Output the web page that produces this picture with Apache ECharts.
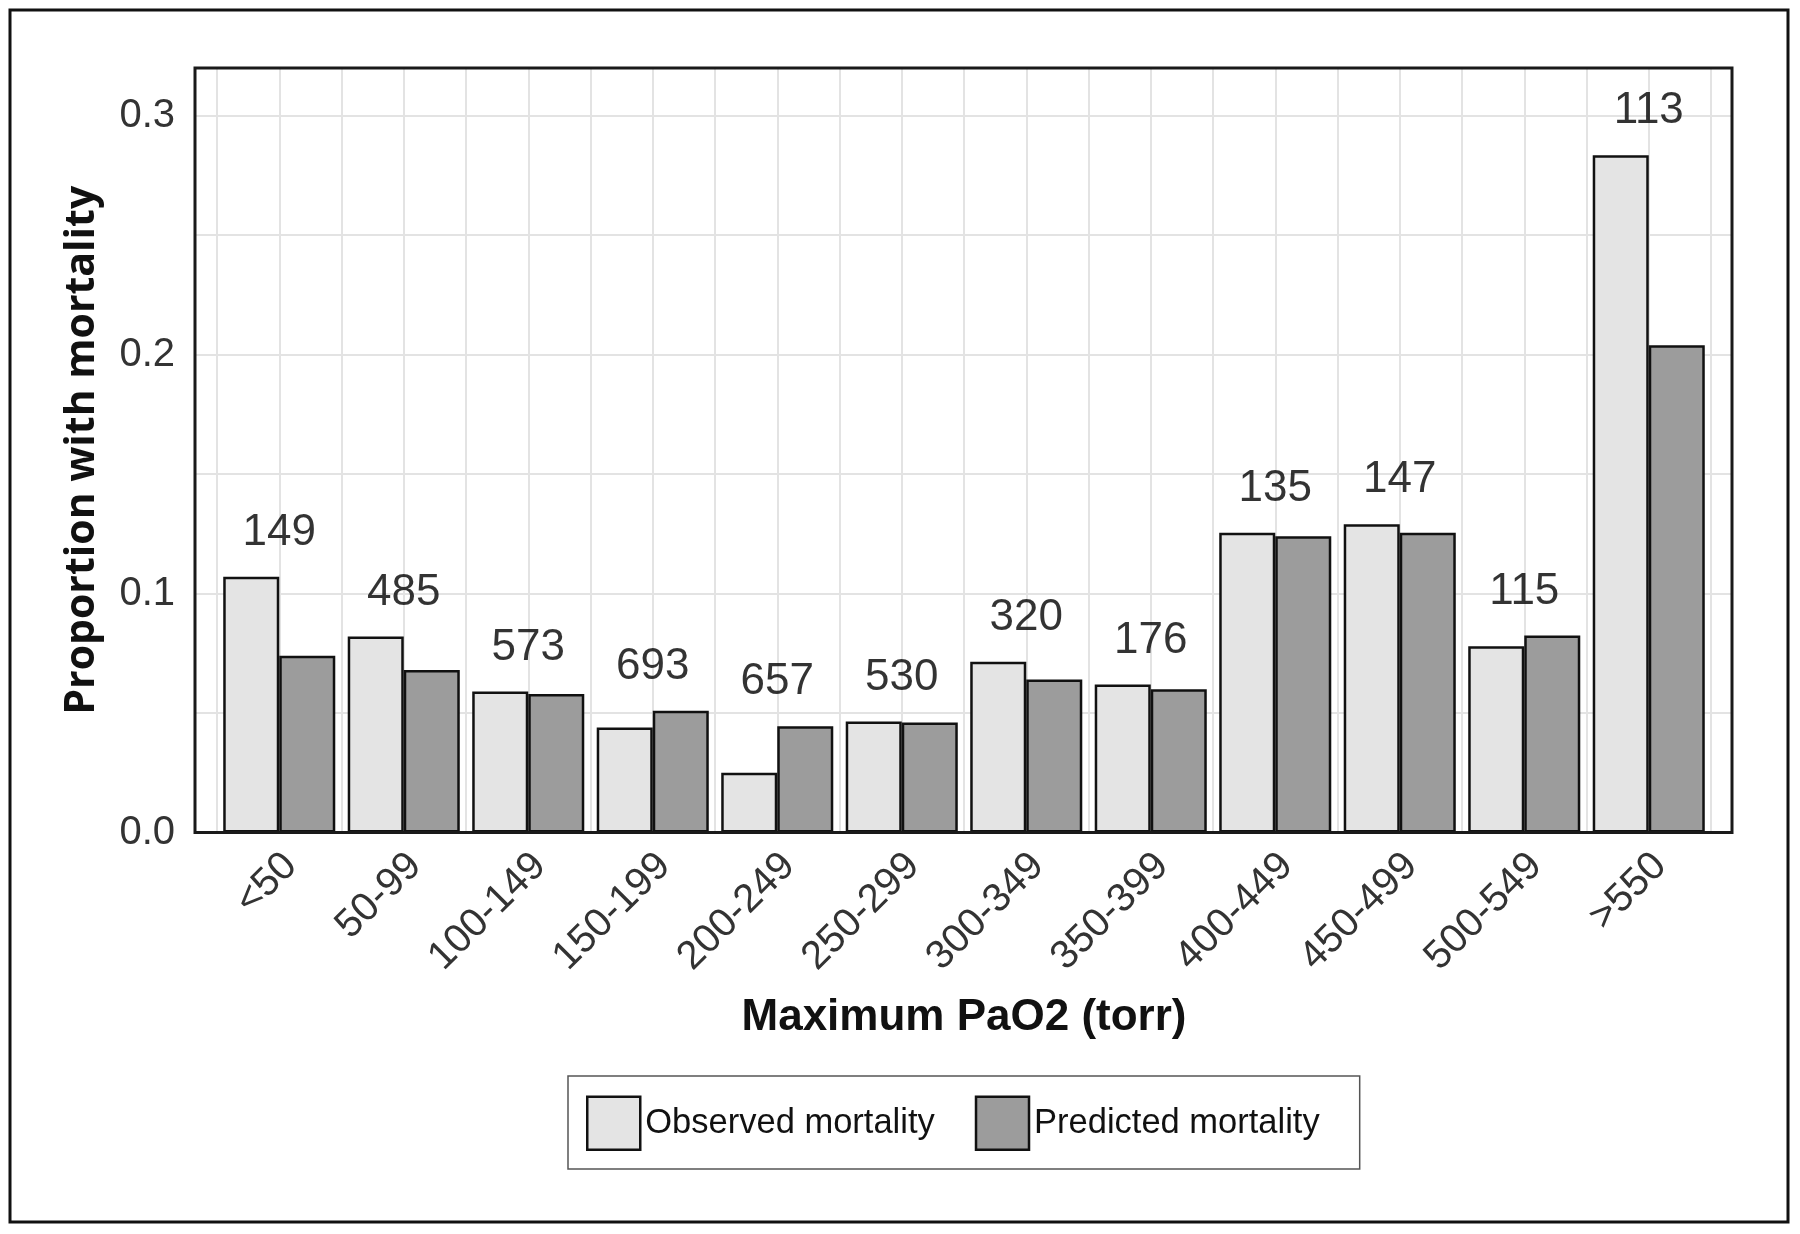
<!DOCTYPE html>
<html>
<head>
<meta charset="utf-8">
<script src="https://cdn.jsdelivr.net/npm/echarts@6/dist/echarts.min.js"></script>
<style>
  html, body { margin: 0; padding: 0; background: #ffffff; }
  #chart { width: 1800px; height: 1234px; }
</style>
</head>
<body>
<div id="chart"></div>
<script>
// ---- data ----
const categories = ['<50', '50-99', '100-149', '150-199', '200-249', '250-299', '300-349', '350-399', '400-449', '450-499', '500-549', '>550'];
const observed = [0.107, 0.082, 0.059, 0.044, 0.025, 0.0465, 0.0715, 0.062, 0.1255, 0.129, 0.078, 0.2835];
const predicted = [0.074, 0.068, 0.058, 0.051, 0.0445, 0.046, 0.064, 0.060, 0.124, 0.1255, 0.0825, 0.204];
const counts = [149, 485, 573, 693, 657, 530, 320, 176, 135, 147, 115, 113];
const yTicks = [0, 0.1, 0.2, 0.3];
const seriesNames = ['Observed mortality', 'Predicted mortality'];

// ---- layout ----
const PL = 195, PT = 68, PR = 1732, PB = 832.5;   // plot frame
const BL = 217, BR = 1711;                        // category band extent
const YMAX = 0.32;
const gridColor = '#e3e3e3';
const sansFont = '"Liberation Sans", Arial, sans-serif';

const chart = echarts.init(document.getElementById('chart'), null, { renderer: 'canvas' });

const annot = categories.map((c, i) => [i, Math.max(observed[i], predicted[i])]);

const option = {
  backgroundColor: '#ffffff',
  animation: false,
  grid: [
    { left: PL, top: PT, width: PR - PL, height: PB - PT, show: false },
    { left: BL, top: PT, width: BR - BL, height: PB - PT, show: false }
  ],
  legend: {
    data: seriesNames,
    left: 568, top: 1076,
    orient: 'horizontal',
    padding: [19.5, 40, 18, 18],
    itemWidth: 53, itemHeight: 53, itemGap: 40,
    borderColor: '#555', borderWidth: 1.5,
    icon: 'rect',
    itemStyle: { borderColor: '#111', borderWidth: 2.5 },
    textStyle: { fontFamily: sansFont, fontSize: 34.5, color: '#111' }
  },
  xAxis: [
    { gridIndex: 0, type: 'value', min: 0, max: 1, show: false },
    {
      gridIndex: 1, type: 'category', data: categories, boundaryGap: true,
      axisLine: { show: false }, axisTick: { show: false }, splitLine: { show: false },
      axisLabel: {
        interval: 0, rotate: 45, fontSize: 40, lineHeight: 32, verticalAlign: 'top',
        margin: 16, color: '#333', fontFamily: sansFont
      },
      name: 'Maximum PaO2 (torr)', nameLocation: 'middle', nameGap: 163,
      nameTextStyle: { fontFamily: sansFont, fontWeight: 'bold', fontSize: 44, color: '#111' }
    },
    {
      gridIndex: 1, type: 'value', min: 0, max: 24, interval: 1,
      axisLine: { show: false }, axisTick: { show: false }, axisLabel: { show: false },
      splitLine: { show: true, lineStyle: { color: gridColor, width: 2 } }
    }
  ],
  yAxis: [
    {
      gridIndex: 0, type: 'value', min: 0, max: YMAX, interval: 0.05,
      axisLine: { show: false }, axisTick: { show: false },
      splitLine: { show: true, lineStyle: { color: gridColor, width: 2 } },
      axisLabel: {
        fontSize: 40, margin: 20, color: '#333', fontFamily: sansFont,
        formatter: function (v) {
          for (const t of yTicks) { if (Math.abs(v - t) < 1e-9) return t.toFixed(1); }
          return '';
        }
      },
      name: 'Proportion with mortality', nameLocation: 'middle', nameGap: 92,
      nameTextStyle: { fontFamily: '"Open Sans", sans-serif', fontWeight: 'bold', fontSize: 41, color: '#111' }
    },
    { gridIndex: 1, type: 'value', min: 0, max: YMAX, show: false }
  ],
  series: [
    {
      name: seriesNames[0], type: 'bar', xAxisIndex: 1, yAxisIndex: 1,
      data: observed, barGap: '0%', barCategoryGap: '10%',
      itemStyle: { color: '#e4e4e4', borderColor: '#111', borderWidth: 2.5 },
      z: 3
    },
    {
      name: seriesNames[1], type: 'bar', xAxisIndex: 1, yAxisIndex: 1,
      data: predicted, barGap: '0%', barCategoryGap: '10%',
      itemStyle: { color: '#9c9c9c', borderColor: '#111', borderWidth: 2.5 },
      z: 3
    },
    {
      name: 'n', type: 'scatter', xAxisIndex: 1, yAxisIndex: 1,
      data: annot, symbolSize: 0, silent: true,
      label: {
        show: true, position: 'top', distance: 22,
        fontFamily: sansFont, fontSize: 44, color: '#000',
        formatter: function (p) { return String(counts[p.dataIndex]); }
      },
      z: 4
    }
  ],
  graphic: [
    {
      type: 'rect', z: 100, silent: true,
      shape: { x: PL, y: PT, width: PR - PL, height: PB - PT },
      style: { fill: null, stroke: '#1a1a1a', lineWidth: 3 }
    },
    {
      type: 'rect', z: 100, silent: true,
      shape: { x: 10, y: 10, width: 1778, height: 1212 },
      style: { fill: null, stroke: '#111', lineWidth: 3 }
    }
  ]
};

chart.setOption(option);
</script>
</body>
</html>
